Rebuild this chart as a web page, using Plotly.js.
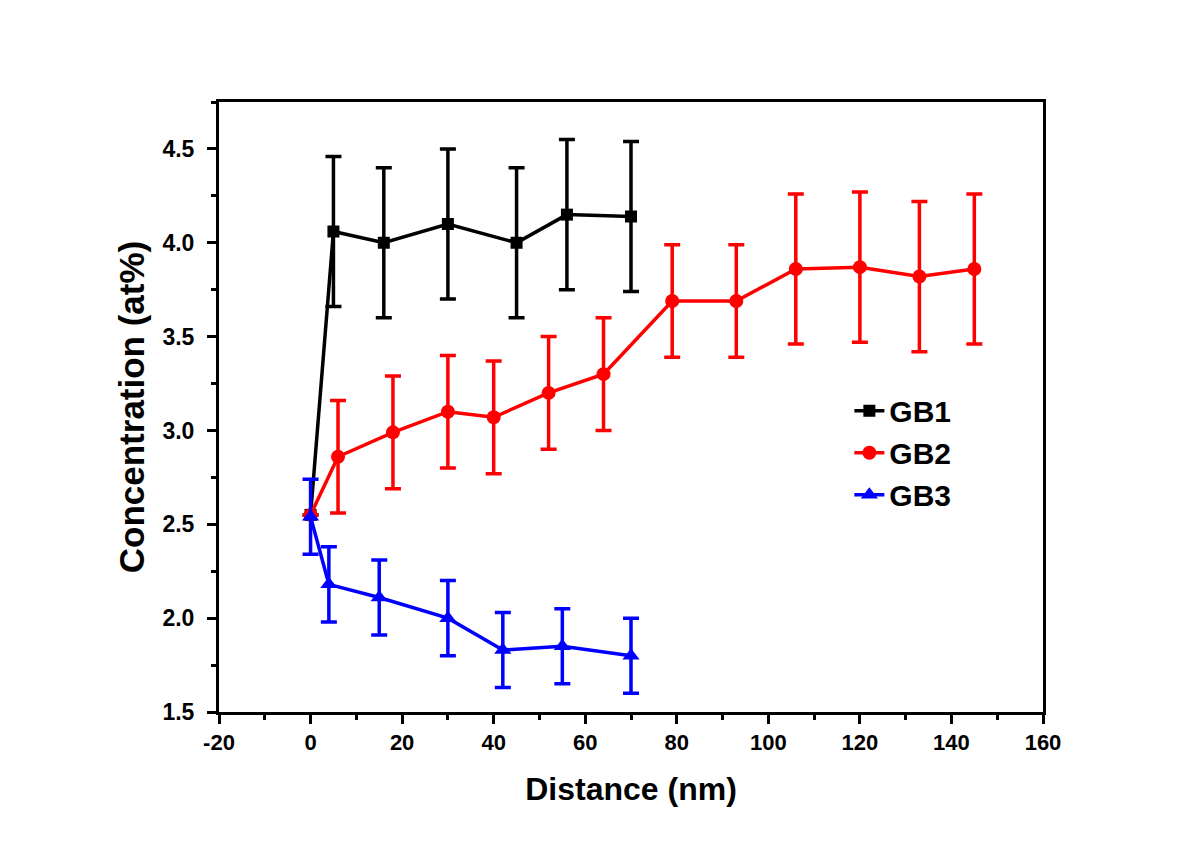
<!DOCTYPE html>
<html><head><meta charset="utf-8">
<script src="https://cdn.plot.ly/plotly-3.0.1.min.js"></script>
<style>body{margin:0;background:#fff}#c{width:1203px;height:845px}</style>
</head><body><div id="c"></div>
<script>
const gb1X = [0, 5, 16, 30, 45, 56, 70];
const gb1Y = [2.55, 4.06, 4.00, 4.10, 4.00, 4.15, 4.14];
const gb1Err = [0, 0.4, 0.4, 0.4, 0.4, 0.4, 0.4];

const gb2X = [0, 6, 18, 30, 40, 52, 64, 79, 93, 106, 120, 133, 145];
const gb2Y = [2.55, 2.86, 2.99, 3.10, 3.07, 3.20, 3.30, 3.69, 3.69, 3.86, 3.87, 3.82, 3.86];
const gb2Err = [0, 0.3, 0.3, 0.3, 0.3, 0.3, 0.3, 0.3, 0.3, 0.4, 0.4, 0.4, 0.4];

const gb3X = [0, 4, 15, 30, 42, 55, 70];
const gb3Y = [2.54, 2.18, 2.11, 2.00, 1.83, 1.85, 1.80];
const gb3Err = [0.2, 0.2, 0.2, 0.2, 0.2, 0.2, 0.2];

const xTickVals = [-20, 0, 20, 40, 60, 80, 100, 120, 140, 160];
const xTickText = ['-20', '0', '20', '40', '60', '80', '100', '120', '140', '160'];

function tr(name, x, y, err, color, symbol, size) {
  return {
    type: 'scatter', mode: 'lines+markers', name: name, x: x, y: y,
    line: {color: color, width: 3.5},
    marker: {color: color, symbol: symbol, size: size},
    error_y: {type: 'data', array: err, visible: true, color: color, thickness: 3.5, width: 8},
    cliponaxis: false
  };
}

const data = [
  tr('GB1', gb1X, gb1Y, gb1Err, '#000000', 'square', 12),
  tr('GB2', gb2X, gb2Y, gb2Err, '#ff0000', 'circle', 14),
  tr('GB3', gb3X, gb3Y, gb3Err, '#0000ff', 'triangle-up', 15)
];

const normal = 'Liberation Sans, Arial, sans-serif';

const layout = {
  width: 1203, height: 845,
  paper_bgcolor: '#fff', plot_bgcolor: '#fff',
  margin: {l: 219, r: 160, t: 102, b: 133},
  showlegend: true,
  legend: {x: 0.765, y: 0.425, xanchor: 'left', yanchor: 'middle', bgcolor: 'rgba(0,0,0,0)',
           font: {family: normal, size: 30, color: '#000', weight: 'bold'},
           tracegroupgap: 0},
  xaxis: {
    range: [-20, 160], tickmode: 'array', tickvals: xTickVals, ticktext: xTickText,
    showgrid: false, zeroline: false,
    showline: true, linecolor: '#000', linewidth: 3, mirror: true,
    ticks: 'outside', ticklen: 9, tickwidth: 3, tickcolor: '#000',
    minor: {ticks: 'outside', ticklen: 5, tickwidth: 3, tickcolor: '#000', dtick: 10, showgrid: false},
    tickfont: {family: normal, size: 22, color: '#000', weight: 'bold'},
    title: {text: 'Distance (nm)', font: {family: normal, size: 32, color: '#000', weight: 'bold'}, standoff: 24}
  },
  yaxis: {
    range: [1.5, 4.75], dtick: 0.5, tick0: 1.5, tickformat: '.1f', showgrid: false, zeroline: false,
    showline: true, linecolor: '#000', linewidth: 3, mirror: true,
    ticks: 'outside', ticklen: 9, tickwidth: 3, tickcolor: '#000', ticklabelstandoff: 8,
    minor: {ticks: 'outside', ticklen: 5, tickwidth: 3, tickcolor: '#000', dtick: 0.25, showgrid: false},
    tickfont: {family: normal, size: 23, color: '#000', weight: 'bold'},
    title: {text: 'Concentration (at%)', font: {family: normal, size: 35, color: '#000', weight: 'bold'}, standoff: 8}
  }
};

Plotly.newPlot('c', data, layout, {displayModeBar: false, staticPlot: true});
</script>
</body></html>
